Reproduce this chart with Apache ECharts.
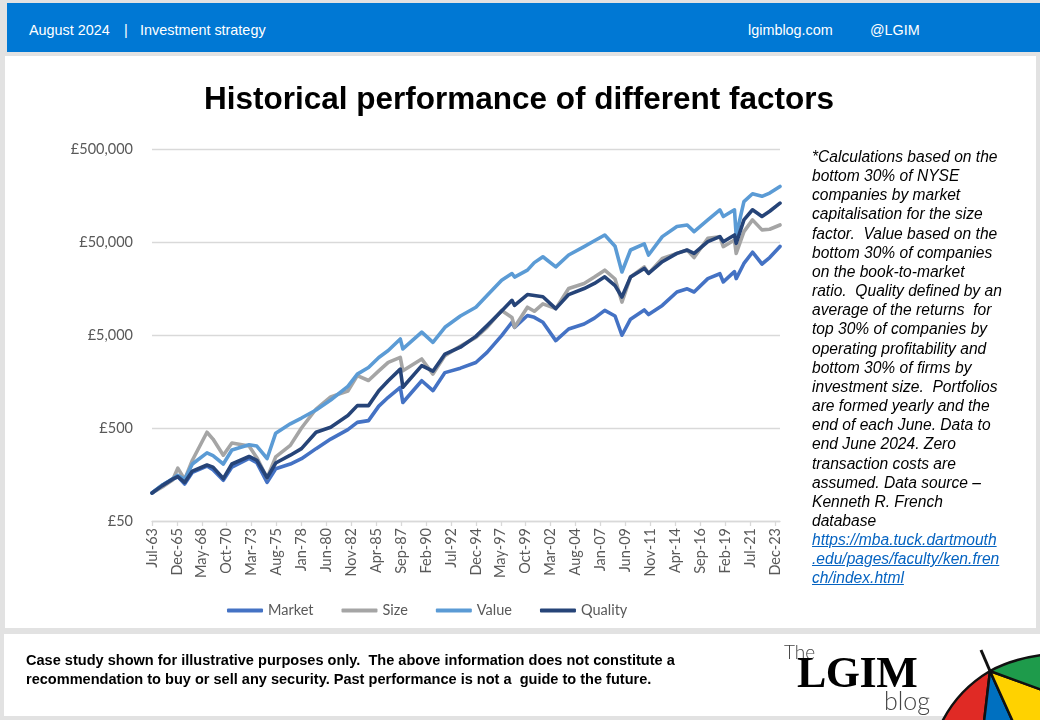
<!DOCTYPE html>
<html><head><meta charset="utf-8">
<script src="https://cdn.jsdelivr.net/npm/echarts@6/dist/echarts.min.js"></script>
<style>
html,body{margin:0;padding:0;}
body{width:1040px;height:720px;background:#E2E2E2;position:relative;overflow:hidden;font-family:"Liberation Sans",Arial,sans-serif;}
.abs{position:absolute;white-space:pre;}
#header{left:7px;top:3px;width:1033px;height:49px;background:#0078D4;}
.ht{position:absolute;color:#fff;font-size:14.4px;top:19px;line-height:16px;white-space:pre;}
#panel{left:5px;top:56px;width:1031px;height:572px;background:#fff;}
#footer{left:4px;top:634px;width:1036px;height:82px;background:#fff;}
#chart{position:absolute;left:0;top:0;width:1040px;height:720px;z-index:2;}
#title{left:0;top:79px;width:1038px;text-align:center;font-weight:bold;font-size:31.5px;line-height:38px;color:#000;z-index:3;}
#note{left:812px;top:147px;width:226px;font-style:italic;font-size:15.6px;line-height:19.15px;color:#000;z-index:3;}
#note a{color:#0563C1;text-decoration:underline;}
#disc{left:26px;top:651px;font-weight:bold;font-size:14.55px;line-height:19px;color:#000;z-index:3;}
#logo{position:absolute;left:0;top:0;z-index:3;}
</style></head>
<body>
<div id="header" class="abs">
  <span class="ht" style="left:22px">August 2024</span>
  <span class="ht" style="left:117px">|</span>
  <span class="ht" style="left:133px">Investment strategy</span>
  <span class="ht" style="left:741px">lgimblog.com</span>
  <span class="ht" style="left:863px">@LGIM</span>
</div>
<div id="panel" class="abs"></div>
<div id="footer" class="abs"></div>
<div id="title" class="abs">Historical performance of different factors</div>
<div id="chart"></div>
<div id="note" class="abs">*Calculations based on the
bottom 30% of NYSE
companies by market
capitalisation for the size
factor.  Value based on the
bottom 30% of companies
on the book-to-market
ratio.  Quality defined by an
average of the returns  for
top 30% of companies by
operating profitability and
bottom 30% of firms by
investment size.  Portfolios
are formed yearly and the
end of each June. Data to
end June 2024. Zero
transaction costs are
assumed. Data source –
Kenneth R. French
database
<a>https://mba.tuck.dartmouth
.edu/pages/faculty/ken.fren
ch/index.html</a></div>
<div id="disc" class="abs">Case study shown for illustrative purposes only.  The above information does not constitute a
recommendation to buy or sell any security. Past performance is not a  guide to the future.</div>
<div class="abs" style="left:784px;top:642px;font-family:Lato,sans-serif;font-weight:300;font-size:19px;line-height:19px;color:#444;z-index:3;">The</div>
<div class="abs" style="left:797px;top:651px;font-family:'Liberation Serif',serif;font-weight:bold;font-size:44px;line-height:44px;color:#000;z-index:3;letter-spacing:-0.5px;">LGIM</div>
<div class="abs" style="left:884px;top:688px;font-family:Lato,sans-serif;font-weight:300;font-size:25px;line-height:25px;color:#444;z-index:3;">blog</div>
<svg id="logo" width="1040" height="720" viewBox="0 0 1040 720">
  <g stroke="#111" stroke-width="2.5" stroke-linejoin="round">
    <path d="M990 671 Q958 690 942 722 L984 722 Z" fill="#E02A25"/>
    <path d="M990 671 L984 722 L1013 722 Z" fill="#0070C0"/>
    <path d="M990 671 L1013 722 L1042 722 L1042 690 Z" fill="#FFD200"/>
    <path d="M990 671 L1042 690 L1042 655 Q1012 659 990 671 Z" fill="#1E9B4B"/>
    <line x1="981" y1="650" x2="990" y2="671" stroke-width="3"/>
  </g>
</svg>
<script>
// Sample dates (YYYY-MM) shared by all series
const sampleDates = ["1963-07","1964-07","1965-07","1966-01","1966-09","1967-06","1968-11","1969-06","1970-06","1971-04",
"1972-12","1973-09","1974-09","1975-07","1976-12","1978-01","1979-06","1980-11","1982-07","1983-06",
"1984-07","1985-07","1986-06","1987-08","1987-11","1989-09","1990-10","1991-12","1993-06","1994-12",
"1996-01","1997-06","1998-06","1998-09","1999-12","2000-08","2001-06","2002-09","2003-12","2005-06",
"2006-06","2007-06","2008-06","2009-02","2009-12","2011-04","2011-09","2013-01","2014-06","2015-06",
"2016-02","2017-06","2018-08","2018-12","2020-01","2020-03","2020-12","2021-10","2022-09","2023-06","2024-06"];
const market = [100,121,140,150,125,167,195,178,137,190,236,212,130,182,205,234,300,380,480,575,
600,860,1070,1370,940,1610,1260,1970,2200,2530,3250,4920,6860,6050,8100,7740,6860,4350,5800,6570,
7600,9200,8000,4970,7400,9300,8300,10400,14500,15700,14500,20200,22800,18600,24000,20200,29400,38800,29000,34000,44800];
const size = [100,116,138,185,140,225,450,380,255,345,320,240,145,245,325,500,800,1080,1250,1830,
1620,2060,2540,2870,2060,2760,1900,3000,3800,4720,6050,9180,7700,6050,9950,9000,10800,9600,15800,17900,
21000,24900,20000,11300,21000,27000,23000,33300,37700,41000,34000,54800,57000,44600,52500,37700,64600,86500,67500,68500,76200];
const value = [100,122,142,155,140,205,270,252,205,290,330,320,235,440,555,640,780,1000,1400,1900,
2240,2870,3400,4530,3540,5360,4170,6050,8000,9930,13300,19400,22900,21000,24900,30000,34700,27000,36200,44600,
51500,59500,45000,23800,41000,47800,36200,57100,73500,76200,64600,86500,111000,94000,111000,59000,136000,165000,155000,168000,198000];
const quality = [100,120,141,150,130,172,200,190,143,205,247,225,146,210,255,300,450,510,680,870,
870,1260,1610,2150,1370,2340,2040,3120,3700,4830,6300,9050,11800,10400,13600,13300,12900,9600,13600,15800,
17900,21100,17000,12800,21000,26000,23000,30700,37700,41000,37700,50400,57100,50400,59500,48400,86500,111000,94000,107000,131000];
const seriesNames = ["Market","Size","Value","Quality"];
const seriesColors = ["#4472C4","#A5A5A5","#5B9BD5","#264478"];
const monthNames = ["Jan","Feb","Mar","Apr","May","Jun","Jul","Aug","Sep","Oct","Nov","Dec"];
const START_YEAR = 1963, START_MONTH = 7;
const BASE = 50;           // bottom of the log axis (£50)
const LABEL_STEP = 29;     // months between axis labels

function monthIndex(s){const p=s.split("-").map(Number);return (p[0]-START_YEAR)*12+(p[1]-START_MONTH);}
function monthLabel(i){const t=START_YEAR*12+(START_MONTH-1)+Math.round(i);const y=Math.floor(t/12);return monthNames[t%12]+"-"+String(y%100).padStart(2,"0");}
function toAxis(v){return Math.log10(v/BASE);}

const allSeries = [market,size,value,quality];
const lastIdx = monthIndex(sampleDates[sampleDates.length-1]);
const font = "Lato, 'Open Sans', sans-serif";

const chart = echarts.init(document.getElementById("chart"), null, {renderer:"canvas"});
chart.setOption({
  animation:false,
  backgroundColor:"transparent",
  grid:{left:152,right:260,top:149,bottom:199,containLabel:false},
  legend:{left:222,top:598,itemWidth:36,itemHeight:4,itemGap:28,icon:"roundRect",
    textStyle:{fontSize:14.5,color:"#595959",fontFamily:font},data:seriesNames},
  xAxis:{type:"value",min:0,max:lastIdx,interval:LABEL_STEP,
    axisLine:{lineStyle:{color:"#D9D9D9",width:1.3}},
    axisTick:{show:true,length:5,lineStyle:{color:"#D9D9D9",width:1.3}},
    splitLine:{show:false},
    axisLabel:{rotate:90,margin:7,fontSize:14.5,color:"#595959",fontFamily:font,
      showMaxLabel:false,formatter:v=>monthLabel(v)}},
  yAxis:{type:"value",min:0,max:4,interval:1,
    axisLine:{show:false},axisTick:{show:false},
    splitLine:{lineStyle:{color:"#D9D9D9",width:1.3}},
    axisLabel:{margin:19,fontSize:14.5,color:"#595959",fontFamily:font,
      formatter:v=>"£"+Math.round(BASE*Math.pow(10,v)).toLocaleString("en-GB")}},
  series:seriesNames.map((n,k)=>({
    name:n,type:"line",showSymbol:false,symbol:"none",
    color:seriesColors[k],
    lineStyle:{width:3.6,color:seriesColors[k],cap:"round",join:"round"},
    data:sampleDates.map((d,i)=>[monthIndex(d),toAxis(allSeries[k][i])])
  }))
});
</script>
</body></html>
